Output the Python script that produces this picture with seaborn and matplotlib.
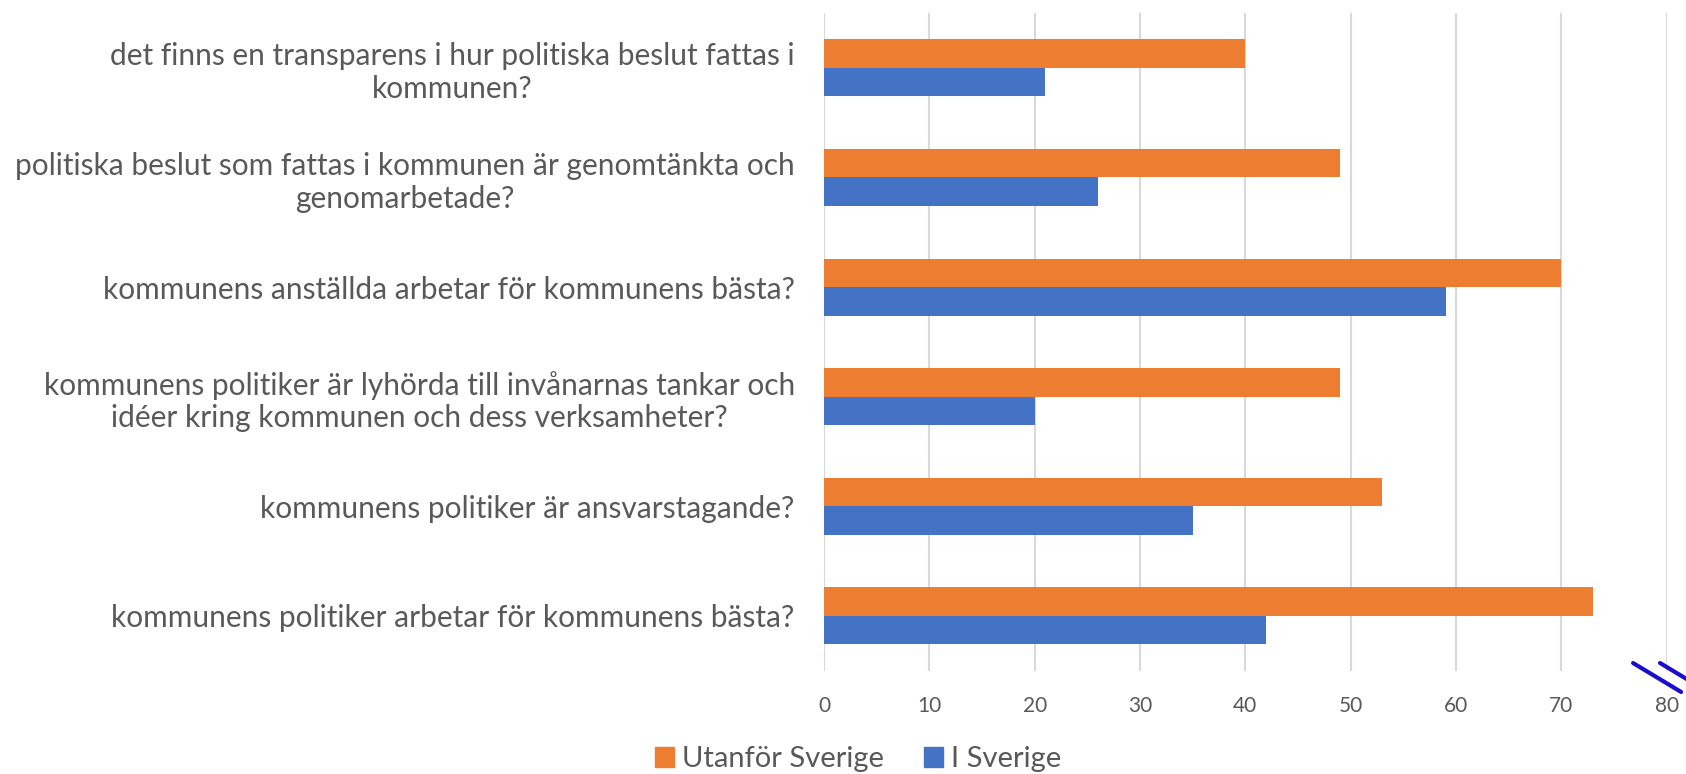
import pandas as pd
import seaborn as sns
import matplotlib.pyplot as plt
from matplotlib.lines import Line2D

# survey questions, top to bottom
questions = [
    "det finns en transparens i hur politiska beslut fattas i\nkommunen?",
    "politiska beslut som fattas i kommunen är genomtänkta och\ngenomarbetade?",
    "kommunens anställda arbetar för kommunens bästa?",
    "kommunens politiker är lyhörda till invånarnas tankar och\nidéer kring kommunen och dess verksamheter?",
    "kommunens politiker är ansvarstagande?",
    "kommunens politiker arbetar för kommunens bästa?",
]
utanfor = [40, 49, 70, 49, 53, 73]
i_sverige = [21, 26, 59, 20, 35, 42]
series_names = ["Utanför Sverige", "I Sverige"]
colors = ["#ED7D31", "#4472C4"]
x_ticks = [0, 10, 20, 30, 40, 50, 60, 70, 80]

df = pd.DataFrame({
    "fraga": questions * 2,
    "varde": utanfor + i_sverige,
    "grupp": [series_names[0]] * len(questions) + [series_names[1]] * len(questions),
})

sns.set_style("white")
plt.rcParams["font.family"] = ["Lato", "DejaVu Sans"]
text_col = "#595959"

fig = plt.figure(figsize=(16.86, 7.74), dpi=100)
ax = fig.add_axes([0.4887, 0.1335, 0.4999, 0.8497])

sns.barplot(data=df, x="varde", y="fraga", hue="grupp", hue_order=series_names,
            palette=colors, saturation=1, orient="h", width=0.52, linewidth=0,
            ax=ax, zorder=3)

ax.set_xlim(0, 80)
ax.set_xticks(x_ticks)
ax.set_xlabel("")
ax.set_ylabel("")
ax.grid(axis="x", color="#d9d9d9", linewidth=1.5, zorder=0)
for s in ax.spines.values():
    s.set_visible(False)
ax.tick_params(axis="x", length=0, labelsize=15, labelcolor=text_col, pad=18)
ax.tick_params(axis="y", length=0, labelsize=21.5, labelcolor=text_col, pad=21)
for lab in ax.get_yticklabels():
    lab.set_multialignment("center")
    lab.set_linespacing(1.2)

ax.get_legend().remove()
handles = [plt.Rectangle((0, 0), 1, 1, color=c) for c in colors]
fig.legend(handles, series_names, loc="center", bbox_to_anchor=(0.509, 0.019),
           ncol=2, frameon=False, fontsize=21, labelcolor=text_col,
           handlelength=0.65, handleheight=0.65, handletextpad=0.25, columnspacing=1.4)

# axis break marks at the lower right corner
for x0 in (0.9686, 0.9846):
    fig.add_artist(Line2D([x0, x0 + 0.0285], [0.1434, 0.106], color="#1a0ccc",
                          linewidth=3, transform=fig.transFigure, clip_on=False))

fig.savefig("out.png", dpi=100)
